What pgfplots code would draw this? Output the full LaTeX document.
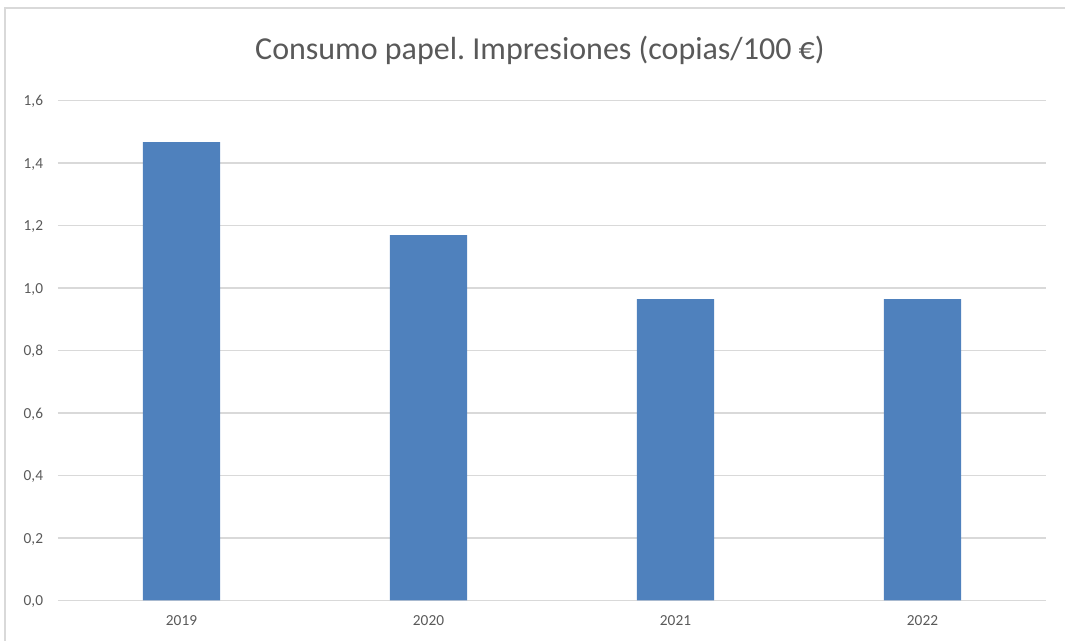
\documentclass[border=0pt]{standalone}
\usepackage{pgfplots}
\pgfplotsset{compat=1.18}
\usepackage{fontspec}
\setmainfont{Carlito}
\frenchspacing
\definecolor{barblue}{HTML}{4F81BD}
\definecolor{gridgray}{HTML}{D9D9D9}
\definecolor{txtgray}{HTML}{595959}
\begin{document}
\begin{tikzpicture}[x=0.75pt,y=0.75pt]
\useasboundingbox (0,0) rectangle (1065,641);
\draw[gridgray, line width=1.2pt] (5,0) -- (5,633) -- (1065,633);
\node[anchor=base, inner sep=0pt, text=txtgray, font=\fontsize{24}{28}\selectfont] at (540,581) {Consumo papel. Impresiones (copias/100 €)};
\begin{axis}[
  at={(43.5pt,30.375pt)}, anchor=south west,
  scale only axis, width=741pt, height=375pt,
  xmin=-0.5, xmax=3.5, ymin=0, ymax=1.6,
  ybar, bar width=0.312, bar shift=0pt,
  xtick={0,1,2,3}, xticklabels={2019,2020,2021,2022},
  ytick={0,0.2,0.4,0.6,0.8,1.0,1.2,1.4,1.6},
  yticklabel style={/pgf/number format/fixed, /pgf/number format/fixed zerofill, /pgf/number format/precision=1, /pgf/number format/use comma},
  /pgf/number format/assume math mode=true,
  ymajorgrids, major grid style={gridgray, line width=0.9pt},
  axis line style={draw=none},
  major tick length=0pt,
  tick label style={text=txtgray, font=\fontsize{11.5}{13}\selectfont, inner sep=0pt},
  yticklabel style={anchor=base east, xshift=-11pt, yshift=-4.1pt},
  xticklabel style={anchor=base, yshift=-18.75pt},
  clip=false,
]
\addplot[fill=barblue, draw=none] coordinates {(0,1.467) (1,1.169) (2,0.964) (3,0.964)};
\end{axis}
\end{tikzpicture}
\end{document}
